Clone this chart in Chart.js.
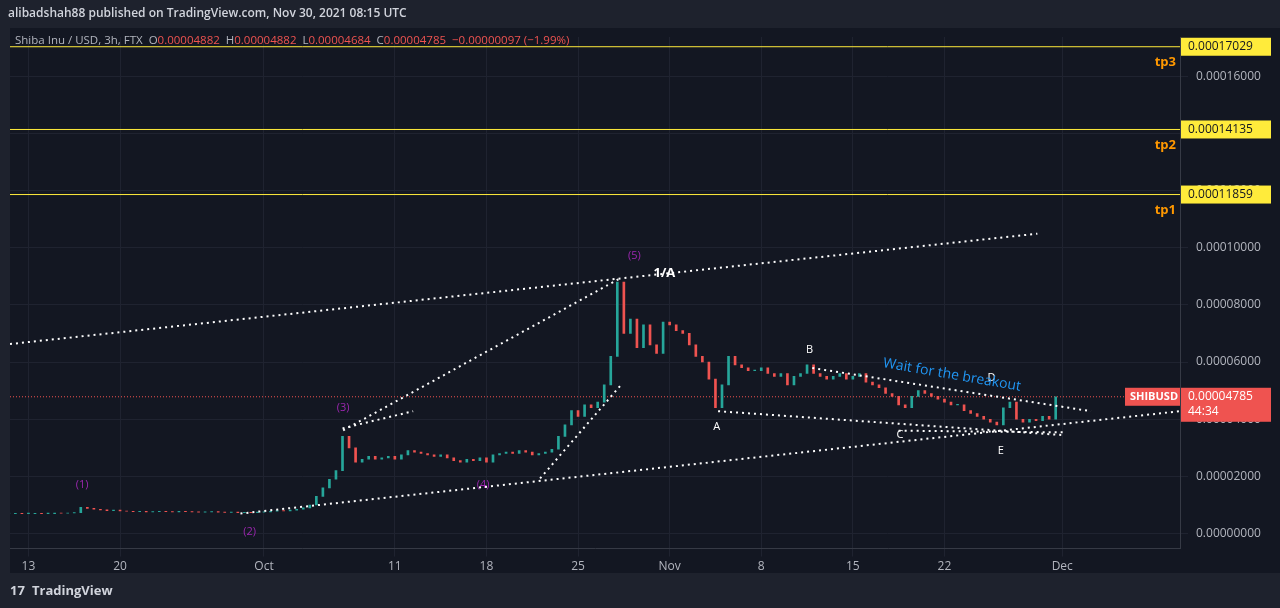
<!DOCTYPE html>
<html><head><meta charset="utf-8">
<script src="https://cdn.jsdelivr.net/npm/chart.js@4/dist/chart.umd.min.js"></script>
<style>html,body{margin:0;padding:0;background:#1e222d;}#w{position:relative;width:1280px;height:608px;}</style>
</head><body><div id="w"><canvas id="c" width="1280" height="608"></canvas></div>
<script>
// prices in units of 1e-5 USD, x in days since Sep 13 2021
const startDay = -1.5, stepDay = 0.5;
const closes = [0.70,0.71,0.70,0.70,0.71,0.70,0.70,0.72,0.71,0.72,0.73,
0.92,0.88,0.85,0.83,
0.80,0.82,0.79,0.78,0.77,0.78,0.76,0.77,0.78,0.77,
0.76,0.78,0.77,0.76,0.75,0.76,0.77,0.75,0.74,0.75,
0.73,0.74,0.73,0.75,0.76,0.78,0.80,0.79,0.82,0.85,
0.90,1.00,1.30,1.60,1.90,2.20,
3.40,3.00,2.50,2.60,
2.70,2.60,2.65,2.70,2.60,2.75,2.90,2.85,2.80,2.75,
2.70,2.75,2.65,2.55,2.50,2.60,2.55,2.65,2.50,2.75,
2.80,2.85,2.80,2.90,2.85,2.75,2.80,2.85,2.95,3.40,
3.80,4.30,4.10,4.50,4.40,4.60,
5.20,6.20,8.80,7.00,
7.50,6.50,7.30,6.60,6.30,7.40,7.30,7.10,7.00,6.60,
6.20,6.00,5.40,4.40,5.20,6.20,
5.90,5.80,5.70,5.70,5.80,5.60,5.50,5.60,5.20,5.50,
5.60,5.90,5.60,5.50,5.40,5.50,5.60,5.40,5.50,5.60,
5.30,5.20,5.10,4.90,4.80,4.50,4.40,4.80,5.00,4.90,
4.80,4.70,4.60,4.50,4.50,4.30,4.20,4.10,4.00,3.90,
3.80,4.40,4.60,4.00,3.90,4.00,3.95,4.10,4.00,4.785];
const xTickDays = [0,7,18,28,35,42,49,56,63,70,79];
const xTickLabels = ['13','20','Oct','11','18','25','Nov','8','15','22','Dec'];
const targets = [17.029,14.135,11.859];
const targetNames = ['tp3','tp2','tp1'];
const lastPrice = 4.785;
const trendLines = [
 [[-1.41,6.63],[77.1,10.49]],
 [[16.2,0.70],[88,4.28]],
 [[24.05,3.61],[45.3,8.95]],
 [[39.1,1.93],[45.4,5.26]],
 [[24.0,3.68],[29.4,4.28]],
 [[59.9,5.79],[81.2,4.28]],
 [[52.7,4.28],[79.2,3.44]],
 [[66.5,3.60],[79.2,3.54]]
];
const waveLabels = [
 {t:'(1)',x:4.1,y:1.72,c:'#9c27b0'},{t:'(2)',x:16.9,y:0.05,c:'#9c27b0'},
 {t:'(3)',x:24.05,y:4.38,c:'#9c27b0'},{t:'(4)',x:34.75,y:1.70,c:'#9c27b0'},
 {t:'(5)',x:46.3,y:9.7,c:'#9c27b0'},{t:'1/A',x:48.6,y:9.1,c:'#ffffff',b:true},
 {t:'A',x:52.6,y:3.72,c:'#ffffff'},{t:'B',x:59.7,y:6.42,c:'#ffffff'},
 {t:'C',x:66.6,y:3.44,c:'#ffffff'},{t:'D',x:73.6,y:5.43,c:'#ffffff'},{t:'E',x:74.3,y:2.88,c:'#ffffff'}
];

const bars = closes.map((c,i)=>{const o=i?closes[i-1]:c;return {x:startDay+i*stepDay,y:[o,c===o?c+0.02:c]};});
const barColors = closes.map((c,i)=> (i && c<closes[i-1]) ? '#ef5350':'#26a69a');
const datasets = [{type:'bar',data:bars,backgroundColor:barColors,barThickness:2,grouped:false,order:2}];
trendLines.forEach(l=>datasets.push({type:'line',data:l.map(p=>({x:p[0],y:p[1]})),borderColor:'#ffffff',borderWidth:2,borderDash:[2,4],pointRadius:0,order:1}));
targets.forEach(v=>datasets.push({type:'line',data:[{x:-1.41,y:v},{x:88,y:v}],borderColor:'#ffeb3b',borderWidth:1,pointRadius:0,order:3}));
datasets.push({type:'line',data:[{x:-1.41,y:lastPrice},{x:88,y:lastPrice}],borderColor:'#ef5350',borderWidth:1,borderDash:[1,2],pointRadius:0,order:3});

const fmt = v => (v*1e-5).toFixed(8);
const deco = {id:'deco',
 beforeDraw(ch){const g=ch.ctx,a=ch.chartArea;g.save();g.fillStyle='#1e222d';g.fillRect(0,0,1280,608);
  g.fillStyle='#131722';g.fillRect(a.left,28,1280-a.left,545);g.restore();},
 afterDraw(ch){const g=ch.ctx,xs=ch.scales.x,ys=ch.scales.y,a=ch.chartArea;g.save();
  g.textBaseline='middle';
  g.fillStyle='#d1d4dc';g.font='600 12px "Open Sans"';g.fillText('alibadshah88 published on TradingView.com, Nov 30, 2021 08:15 UTC',8,14);
  const parts=[['Shiba Inu / USD, 3h, FTX  O','#b2b5be'],['0.00004882','#ef5350'],['  H','#b2b5be'],['0.00004882','#ef5350'],['  L','#b2b5be'],['0.00004684','#ef5350'],['  C','#b2b5be'],['0.00004785','#ef5350'],['  −0.00000097 (−1.99%)','#ef5350']];
  g.font='11.5px "Open Sans"';let px=15;parts.forEach(p=>{g.fillStyle=p[1];g.fillText(p[0],px,41);px+=g.measureText(p[0]).width;});
  targets.forEach((v,i)=>{const y=ys.getPixelForValue(v);g.fillStyle='#ffeb3b';g.fillRect(1181,y-9,90,18);
   g.fillStyle='#131722';g.font='12px "Open Sans"';g.textAlign='left';g.fillText(fmt(v),1188,y);
   g.fillStyle='#ff9800';g.font='bold 13px "Open Sans"';g.textAlign='right';g.fillText(targetNames[i],1176,y+16);});
  const yl=ys.getPixelForValue(lastPrice);g.fillStyle='#ef5350';g.fillRect(1181,yl-9,90,34);g.fillRect(1125,yl-9,55,18);
  g.fillStyle='#fff';g.textAlign='left';g.font='12px "Open Sans"';g.fillText(fmt(lastPrice),1188,yl);g.fillText('44:34',1188,yl+15);
  g.font='bold 11px "Open Sans"';g.fillText('SHIBUSD',1130,yl);
  waveLabels.forEach(w=>{g.fillStyle=w.c;g.textAlign='center';g.font=(w.b?'bold 13px':'11px')+' "Open Sans"';g.fillText(w.t,xs.getPixelForValue(w.x),ys.getPixelForValue(w.y));});
  g.translate(952,375);g.rotate(0.17);g.fillStyle='#2196f3';g.font='14px "Open Sans"';g.fillText('Wait for the breakout',0,0);
  g.setTransform(1,0,0,1,0,0);g.textAlign='left';g.fillStyle='#d1d4dc';g.font='bold 13px "Open Sans"';g.fillText('TradingView',32,591);
  g.font='bold 13px "Open Sans"';g.fillText('17',10,591);
  g.restore();}};

new Chart(document.getElementById('c'),{data:{datasets},plugins:[deco],
 options:{responsive:false,animation:false,layout:{padding:{top:37,bottom:31,left:10,right:0}},
  plugins:{legend:{display:false},tooltip:{enabled:false}},
  scales:{
   x:{type:'linear',offset:false,min:-1.41,max:88,grid:{color:'#1f2330',offset:false},border:{color:'#363a45'},
    afterBuildTicks:s=>{s.ticks=xTickDays.map(v=>({value:v}));},
    ticks:{color:'#b2b5be',font:{size:12,family:'Open Sans'},autoSkip:false,maxRotation:0,callback:(v)=>xTickLabels[xTickDays.indexOf(v)]}},
   y:{position:'right',min:-0.526,max:17.37,grid:{color:'#1f2330'},border:{color:'#363a45'},
    afterBuildTicks:s=>{s.ticks=[0,2,4,6,8,10,12,14,16].map(v=>({value:v}));},
    afterFit:s=>{s.width=100;},
    ticks:{color:'#b2b5be',font:{size:12,family:'Open Sans'},padding:8,callback:v=>fmt(v)}}
  }}});
</script></body></html>
